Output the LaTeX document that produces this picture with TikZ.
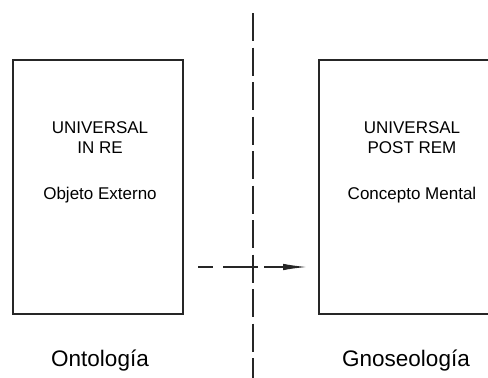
\documentclass[tikz,border=0pt]{standalone}
\usepackage{fontspec}
\setmainfont{Liberation Sans}
\usetikzlibrary{arrows.meta}
\begin{document}
\begin{tikzpicture}[x=1pt,y=-1pt,
  boxframe/.style={draw=black!85, line width=1.3pt},
  boxtext/.style={anchor=base, inner sep=0pt, font=\fontsize{17}{20}\selectfont},
  labeltext/.style={anchor=base, inner sep=0pt, font=\fontsize{22.5}{26}\selectfont},
  divider/.style={draw=black!85, line width=1.3pt, dash pattern=on 28pt off 6.5pt},
  flow/.style={draw=black!85, line width=1.3pt, dash pattern=on 15pt off 10pt on 35pt off 6pt on 100pt off 2pt,
    -{Latex[length=24pt,width=6.5pt]}}
]
\useasboundingbox (0,0) rectangle (488,378);
\clip (0,0) rectangle (488,378);
% boxes
\draw[boxframe] (13,60) rectangle (183,314);
\draw[boxframe] (319,60) rectangle (506,314);
% texts left
\node[boxtext] (l1) at (100,133) {UNIVERSAL};
\node[boxtext] (l2) at (100,153) {IN RE};
\node[boxtext] (l3) at (100,199) {Objeto Externo};
% texts right
\node[boxtext] (r1) at (412,133) {UNIVERSAL};
\node[boxtext] (r2) at (412,153) {POST REM};
\node[boxtext] (r3) at (412,199) {Concepto Mental};
% labels
\node[labeltext] (ont) at (100,366) {Ontología};
\node[labeltext] (gno) at (406,366) {Gnoseología};
% divider
\coordinate (dtop) at (253,13);
\coordinate (dbot) at (253,380);
\draw[divider] (dtop) -- (dbot);
% arrow
\coordinate (astart) at (198,267);
\coordinate (aend) at (307,267);
\draw[flow] (astart) -- (aend);
\end{tikzpicture}
\end{document}
